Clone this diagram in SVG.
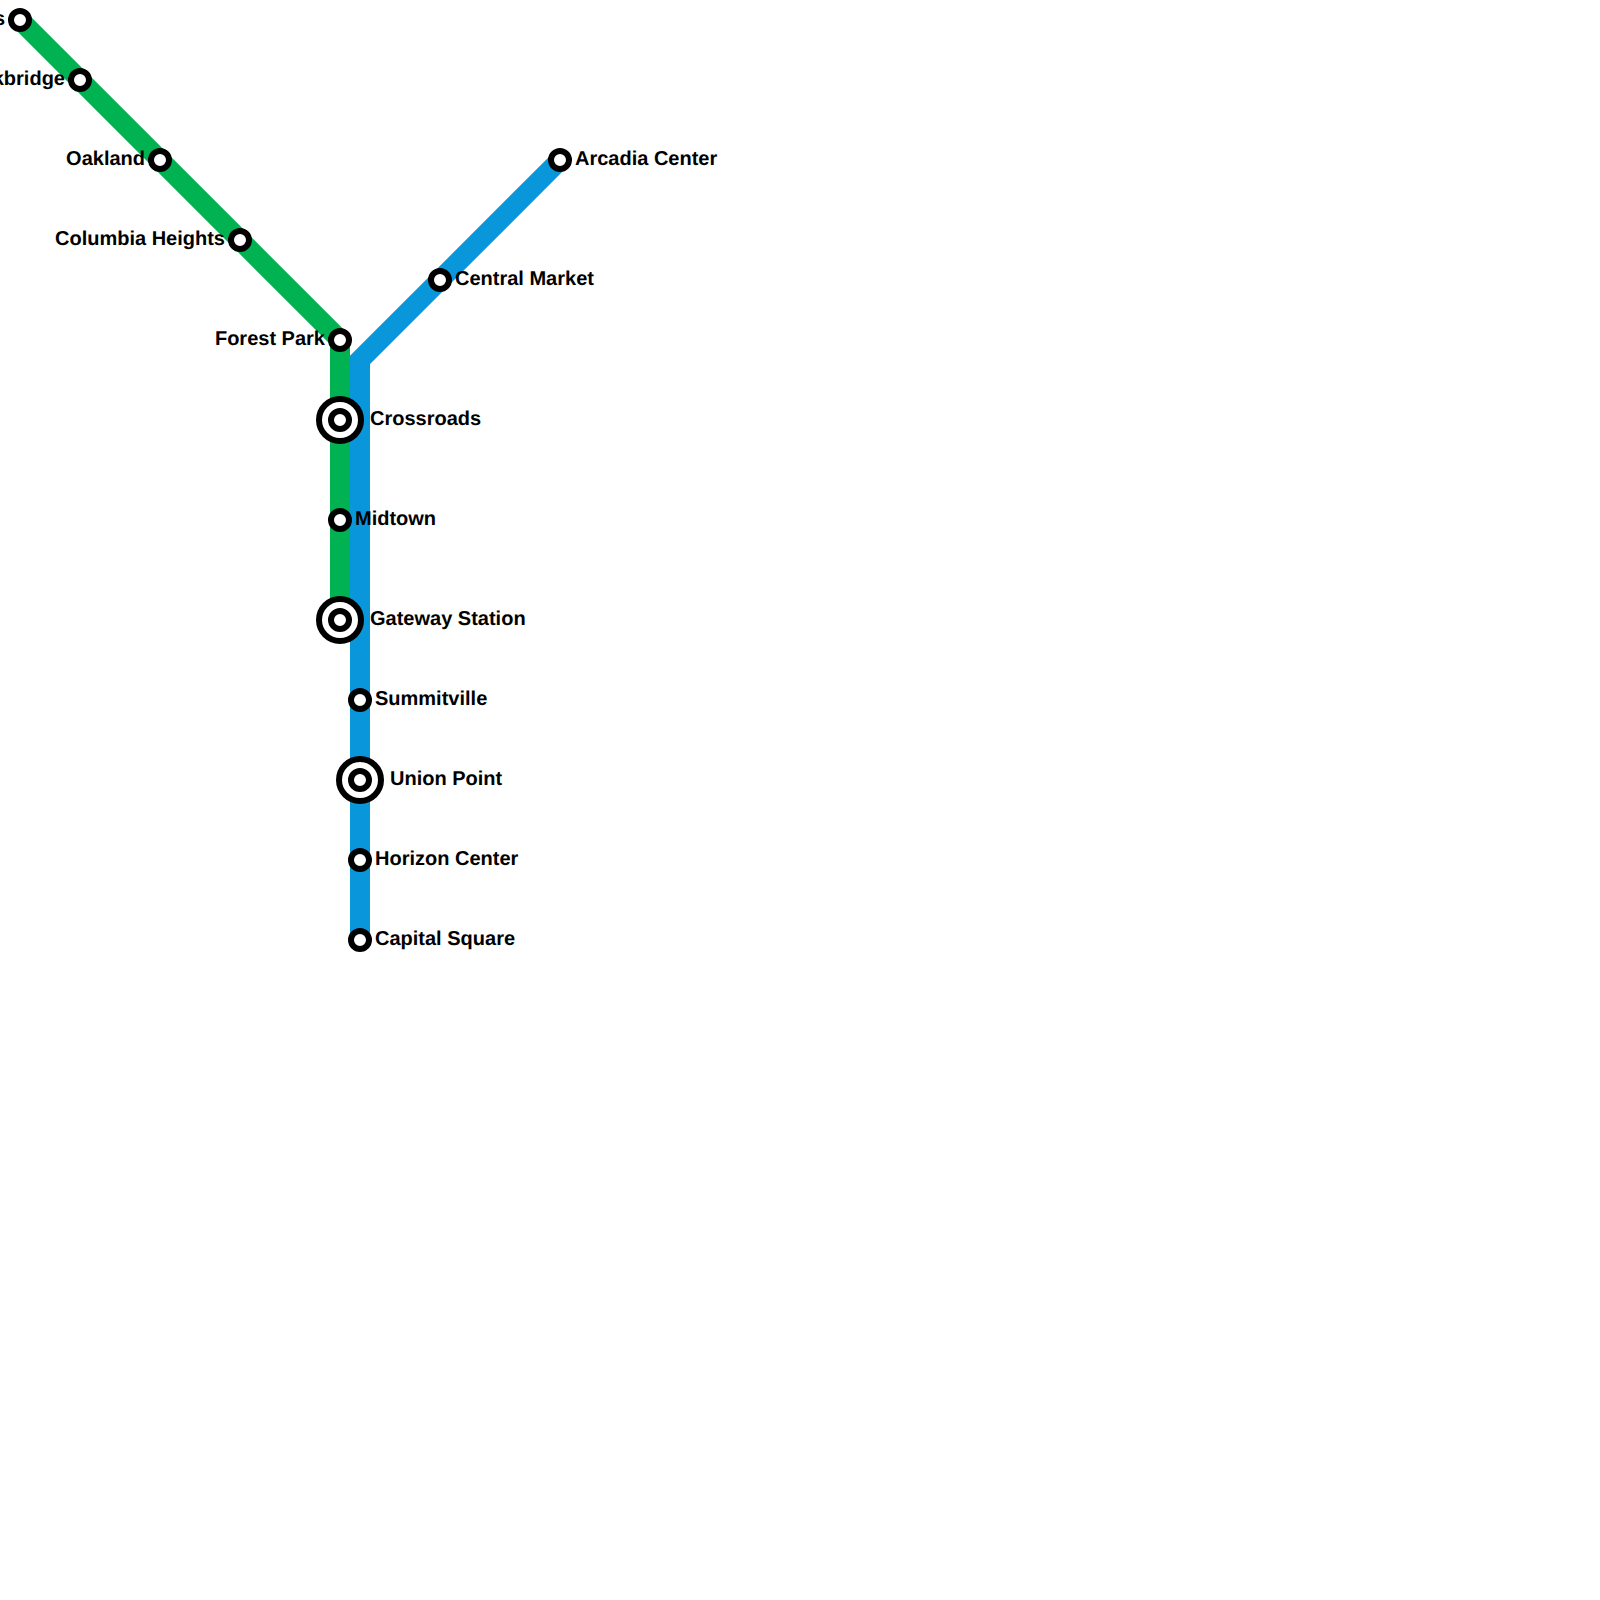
<svg xmlns="http://www.w3.org/2000/svg" width="1600" height="1600" viewBox="0 0 1600 1600">
<style>
.line{fill:none;stroke-width:20;stroke-linejoin:miter;stroke-linecap:butt}
.st{fill:#fff;stroke:#000;stroke-width:6}
.ring{fill:#fff;stroke:#000;stroke-width:6}
text{font-family:"Liberation Sans",Arial,sans-serif;font-weight:bold;font-size:20px;fill:#000;text-rendering:geometricPrecision}
.e{text-anchor:end}
</style>
<rect width="1600" height="1600" fill="#fff"/>
<g id="connectors">
<path id="line-green" class="line" stroke="#00b251" d="M20 20L340 340V620"/>
<path id="line-blue" class="line" stroke="#0a96db" d="M560 160L360 360V940"/>
</g>
<g id="n1"><circle class="st" cx="20" cy="20" r="9"/><text class="e" x="5" y="25">s</text></g>
<g id="n2"><circle class="st" cx="80" cy="80" r="9"/><text class="e" x="65" y="85">kbridge</text></g>
<g id="n3"><circle class="st" cx="160" cy="160" r="9"/><text class="e" x="145" y="165">Oakland</text></g>
<g id="n4"><circle class="st" cx="240" cy="240" r="9"/><text class="e" x="225" y="245">Columbia Heights</text></g>
<g id="n5"><circle class="st" cx="340" cy="340" r="9"/><text class="e" x="325" y="345">Forest Park</text></g>
<g id="n6"><circle class="ring" cx="340" cy="420" r="21"/><circle class="st" cx="340" cy="420" r="9"/><text x="370" y="425">Crossroads</text></g>
<g id="n7"><circle class="st" cx="340" cy="520" r="9"/><text x="355" y="525">Midtown</text></g>
<g id="n8"><circle class="ring" cx="340" cy="620" r="21"/><circle class="st" cx="340" cy="620" r="9"/><text x="370" y="625">Gateway Station</text></g>
<g id="n9"><circle class="st" cx="360" cy="700" r="9"/><text x="375" y="705">Summitville</text></g>
<g id="n10"><circle class="ring" cx="360" cy="780" r="21"/><circle class="st" cx="360" cy="780" r="9"/><text x="390" y="785">Union Point</text></g>
<g id="n11"><circle class="st" cx="360" cy="860" r="9"/><text x="375" y="865">Horizon Center</text></g>
<g id="n12"><circle class="st" cx="360" cy="940" r="9"/><text x="375" y="945">Capital Square</text></g>
<g id="n13"><circle class="st" cx="440" cy="280" r="9"/><text x="455" y="285">Central Market</text></g>
<g id="n14"><circle class="st" cx="560" cy="160" r="9"/><text x="575" y="165">Arcadia Center</text></g>
</svg>
